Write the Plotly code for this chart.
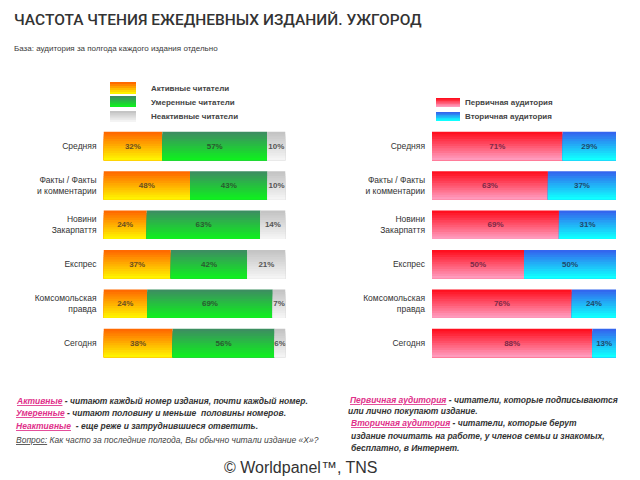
import plotly.graph_objects as go
from plotly.subplots import make_subplots

# ---------------- data ----------------
categories = ["Средняя", "Факты / Факты<br>и комментарии", "Новини<br>Закарпаття",
              "Експрес", "Комсомольская<br>правда", "Сегодня"]
active = [32, 48, 24, 37, 24, 38]
moderate = [57, 43, 63, 42, 69, 56]
inactive = [10, 10, 14, 21, 7, 6]
primary = [71, 63, 69, 50, 76, 88]
secondary = [29, 37, 31, 50, 24, 13]

left_names = ["Активные читатели", "Умеренные читатели", "Неактивные читатели"]
right_names = ["Первичная аудитория", "Вторичная аудитория"]

# gradient colours (top -> bottom)
grad_active = ("#ff6a00", "#fff200")
grad_moderate = ("#3c8f60", "#10ee20")
grad_inactive = ("#c4c4c4", "#f4f4f4")
grad_primary = ("#ff1020", "#ff9abc")
grad_secondary = ("#3366ee", "#10ffff")
text_cols_left = ["#6a5020", "#2a5a30", "#555555"]
text_cols_right = ["#7a2a48", "#1f4a6a"]

FONT = "Liberation Sans, Arial, sans-serif"
N_BANDS = 12
BAR_W = 0.72

# the page body has an 8px margin: figure is 632x472 placed at (8, 8)
OFF = 8
W, H = 640 - OFF, 480 - OFF


def px(x):
    return (x - OFF) / W


def py(y):
    return 1 - (y - OFF) / H


def hex2rgb(h):
    h = h.lstrip("#")
    return tuple(int(h[i:i + 2], 16) for i in (0, 2, 4))


def mix(c1, c2, t):
    a, b = hex2rgb(c1), hex2rgb(c2)
    return "rgb(%d,%d,%d)" % tuple(round(a[i] + (b[i] - a[i]) * t) for i in range(3))


fig = make_subplots(rows=1, cols=2)


def add_stack(series, grads, textcols, col):
    totals = [sum(v) for v in zip(*series)]
    base = [0.0] * len(categories)
    for vals, grad, tc in zip(series, grads, textcols):
        share = [v / t * 100 for v, t in zip(vals, totals)]
        for k in range(N_BANDS):
            off = -BAR_W / 2 + k * BAR_W / N_BANDS
            fig.add_trace(go.Bar(
                y=categories, x=share, base=base, orientation="h",
                width=BAR_W / 2 - off, offset=off,
                marker=dict(color=mix(grad[0], grad[1], k / (N_BANDS - 1)), line=dict(width=0)),
                showlegend=False, hoverinfo="skip"), row=1, col=col)
        fig.add_trace(go.Bar(
            y=categories, x=share, base=base, orientation="h",
            width=BAR_W, offset=-BAR_W / 2,
            marker=dict(color="rgba(0,0,0,0)", line=dict(width=0)),
            text=[f"{v}%" for v in vals], textposition="inside",
            insidetextanchor="middle", textangle=0, constraintext="none",
            textfont=dict(size=8, color=tc, family=FONT, weight="bold"),
            showlegend=False, hoverinfo="skip"), row=1, col=col)
        base = [b + s for b, s in zip(base, share)]


add_stack([active, moderate, inactive], [grad_active, grad_moderate, grad_inactive], text_cols_left, 1)
add_stack([primary, secondary], [grad_primary, grad_secondary], text_cols_right, 2)

ydom = [py(362.7), py(126.3)]
fig.update_layout(
    width=W, height=H, margin=dict(l=0, r=0, t=0, b=0),
    paper_bgcolor="white", plot_bgcolor="white",
    barmode="overlay",
    uniformtext=dict(minsize=8, mode="show"),
    xaxis=dict(domain=[px(103.5), px(285.5)], range=[0, 100], visible=False, fixedrange=True),
    xaxis2=dict(domain=[px(432), px(616)], range=[0, 100], visible=False, fixedrange=True),
    yaxis=dict(domain=ydom, autorange="reversed", showgrid=False, showline=False, zeroline=False,
               ticks="", ticklabelstandoff=6,
               tickfont=dict(size=8.5, color="#333333", family=FONT)),
    yaxis2=dict(domain=ydom, autorange="reversed", showgrid=False, showline=False, zeroline=False,
                ticks="", ticklabelstandoff=6,
                tickfont=dict(size=8.5, color="#333333", family=FONT)),
)

ann = []
# title & subtitle
ann.append(dict(text="ЧАСТОТА ЧТЕНИЯ ЕЖЕДНЕВНЫХ ИЗДАНИЙ. УЖГОРОД", x=px(12), y=py(20),
                font=dict(size=15.5, color="#333333", family="Roboto, " + FONT, weight=500)))
ann.append(dict(text="База: аудитория за полгода каждого издания отдельно", x=px(12), y=py(49),
                font=dict(size=8, color="#3a3a3a", family=FONT)))

# legends (swatches as gradient bands)
shapes = []
legend_left = [(grad_active, 82, 94), (grad_moderate, 96, 107), (grad_inactive, 111, 122)]
legend_left_text_y = [88, 102, 116]
legend_right = [(grad_primary, 98, 107), (grad_secondary, 112, 121)]
legend_right_text_y = [102, 116]


def swatch(grad, x0, x1, y0, y1):
    n = 6
    h = (y1 - y0) / n
    for k in range(n):
        shapes.append(dict(type="rect", xref="paper", yref="paper",
                           x0=px(x0), x1=px(x1), y0=py(y0 + k * h), y1=py(y1),
                           fillcolor=mix(grad[0], grad[1], k / (n - 1)), line=dict(width=0)))


for (g, y0, y1), name, ty in zip(legend_left, left_names, legend_left_text_y):
    swatch(g, 110, 136, y0, y1)
    ann.append(dict(text=name, x=px(149), y=py(ty),
                    font=dict(size=8, color="#444444", family=FONT, weight="bold")))
for (g, y0, y1), name, ty in zip(legend_right, right_names, legend_right_text_y):
    swatch(g, 436, 460, y0, y1)
    ann.append(dict(text=name, x=px(463), y=py(ty),
                    font=dict(size=8, color="#444444", family=FONT, weight="bold")))

PINK = "#e0308a"


def link(word):
    return f"<span style='color:{PINK}'><u>{word}</u></span>"


left_notes = [
    (link("Активные") + " - читают каждый номер издания, почти каждый номер.", 401),
    (link("Умеренные") + " - читают половину и меньше  половины номеров.", 413),
    (link("Неактивные") + "  - еще реже и затруднившиеся ответить.", 426),
]
for t, y in left_notes:
    ann.append(dict(text=f"<b><i>{t}</i></b>", x=px(14), y=py(y),
                    font=dict(size=8.5, color="#333333", family=FONT)))
ann.append(dict(text="<i><u>Вопрос:</u> Как часто за последние полгода, Вы обычно читали издание «Х»?</i>",
                x=px(14), y=py(440), font=dict(size=8.5, color="#444444", family=FONT)))

right_notes = [
    (link("Первичная аудитория") + " - читатели, которые подписываются", 348, 400),
    ("или лично покупают издание.", 346, 411),
    (link("Вторичная аудитория") + " - читатели, которые берут", 349, 423),
    ("издание почитать на работе, у членов семьи и знакомых,", 349, 436),
    ("бесплатно, в Интернет.", 349, 448),
]
for t, x, y in right_notes:
    ann.append(dict(text=f"<b><i>{t}</i></b>", x=px(x), y=py(y),
                    font=dict(size=8.5, color="#333333", family=FONT)))

ann.append(dict(text="© Worldpanel™, TNS", x=px(300), y=py(467), xanchor="center",
                font=dict(size=16, color="#333333", family=FONT)))

for a in ann:
    a.setdefault("xanchor", "left")
    a.update(xref="paper", yref="paper", yanchor="middle", showarrow=False)

fig.update_layout(annotations=ann, shapes=shapes)
fig.write_html("out.html")
